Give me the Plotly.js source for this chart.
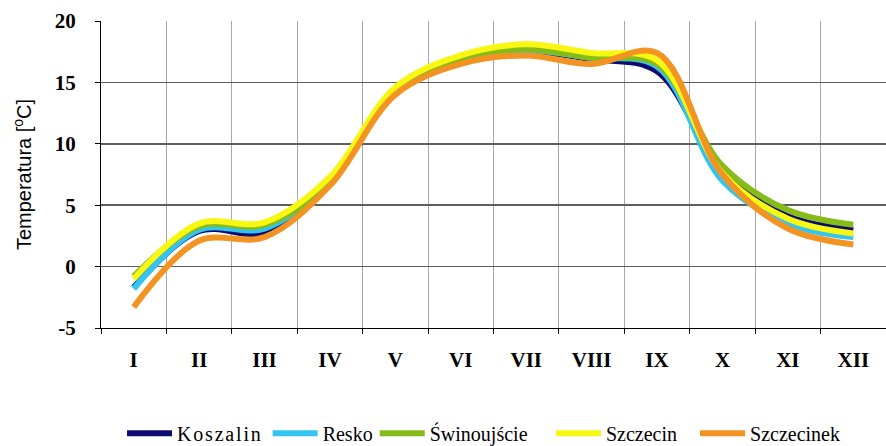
<!DOCTYPE html>
<html>
<head>
<meta charset="utf-8">
<script src="https://cdn.plot.ly/plotly-3.0.1.min.js"></script>
<style>
  html, body { margin: 0; padding: 0; background: #fff; }
  #chart { width: 886px; height: 446px; }
  .legendtext { letter-spacing: 1.8px; }
</style>
</head>
<body>
<div id="chart"></div>
<script>
const months = ["I", "II", "III", "IV", "V", "VI", "VII", "VIII", "IX", "X", "XI", "XII"];

const koszalin    = [-1.7, 2.9, 2.8, 6.8, 14.2, 16.7, 17.5, 16.9, 15.9, 7.7, 4.1, 3.0];
const resko       = [-1.8, 3.0, 3.1, 6.9, 14.2, 16.8, 17.6, 17.0, 16.3, 7.0, 3.5, 2.4];
const swinoujscie = [-0.8, 3.3, 3.4, 6.8, 14.3, 16.9, 17.7, 17.0, 16.5, 8.2, 4.6, 3.4];
const szczecin    = [-1.0, 3.5, 3.6, 7.3, 14.6, 17.2, 18.1, 17.4, 16.8, 7.6, 3.9, 2.7];
const szczecinek  = [-3.3, 2.1, 2.4, 6.6, 14.0, 16.5, 17.2, 16.5, 17.4, 7.5, 3.1, 1.8];

const yTickVals = [-5, 0, 5, 10, 15, 20];
const yTickText = ["-5", "0", "5", "10", "15", "20"];

const seriesNames = ["Koszalin", "Resko", "Świnoujście", "Szczecin", "Szczecinek"];
const seriesData = [koszalin, resko, swinoujscie, szczecin, szczecinek];
const seriesColors = ["#0c0c70", "#33c4f0", "#86bc1a", "#f7f712", "#f39422"];
const legendIds = ["legend", "legend2", "legend3", "legend4", "legend5"];
const legendX = [0.0268, 0.2123, 0.3487, 0.5732, 0.7567];

const traces = seriesData.map((vals, i) => ({
  type: "scatter",
  mode: "lines",
  x: months,
  y: vals,
  name: seriesNames[i],
  legend: legendIds[i],
  line: { color: seriesColors[i], width: 6, shape: "spline", smoothing: 1 },
  hoverinfo: "skip"
}));

const legendFont = { family: "Liberation Serif, Times New Roman, serif", size: 20, color: "#000" };
const layout = {
  width: 886,
  height: 446,
  margin: { l: 101, r: 0, t: 21, b: 118, autoexpand: false },
  paper_bgcolor: "#fff",
  plot_bgcolor: "#fff",
  showlegend: true,
  xaxis: {
    type: "category",
    range: [-0.5, 11.5],
    tickson: "boundaries",
    showgrid: true,
    gridcolor: "#a8a8a8",
    gridwidth: 1,
    showline: true,
    linecolor: "#000",
    linewidth: 1,
    ticks: "outside",
    ticklen: 5,
    tickcolor: "#000",
    ticklabelstandoff: 13,
    tickfont: { family: "Liberation Serif, Times New Roman, serif", size: 21, weight: "bold", color: "#000" },
    zeroline: false,
    automargin: false,
    fixedrange: true
  },
  yaxis: {
    range: [-5, 20],
    tickmode: "array",
    tickvals: yTickVals,
    ticktext: yTickText,
    showgrid: true,
    gridcolor: "#5e5e5e",
    gridwidth: 1.5,
    showline: true,
    linecolor: "#000",
    linewidth: 1,
    ticks: "outside",
    ticklen: 5,
    tickcolor: "#000",
    ticklabelstandoff: 15,
    tickfont: { family: "Liberation Serif, Times New Roman, serif", size: 21, weight: "bold", color: "#000" },
    zeroline: false,
    automargin: false,
    title: {
      text: "Temperatura [<sup>o</sup>C]",
      font: { family: "Liberation Sans, Arial, sans-serif", size: 20, color: "#000" },
      standoff: 17
    },
    fixedrange: true
  }
};
legendIds.forEach((id, i) => {
  layout[id] = {
    orientation: "h",
    x: legendX[i],
    xanchor: "left",
    y: -0.343,
    yanchor: "middle",
    bgcolor: "rgba(0,0,0,0)",
    borderwidth: 0,
    itemwidth: 45,
    font: legendFont,
    itemclick: false,
    itemdoubleclick: false
  };
});

Plotly.newPlot("chart", traces, layout, { displayModeBar: false, staticPlot: true });
</script>
</body>
</html>
